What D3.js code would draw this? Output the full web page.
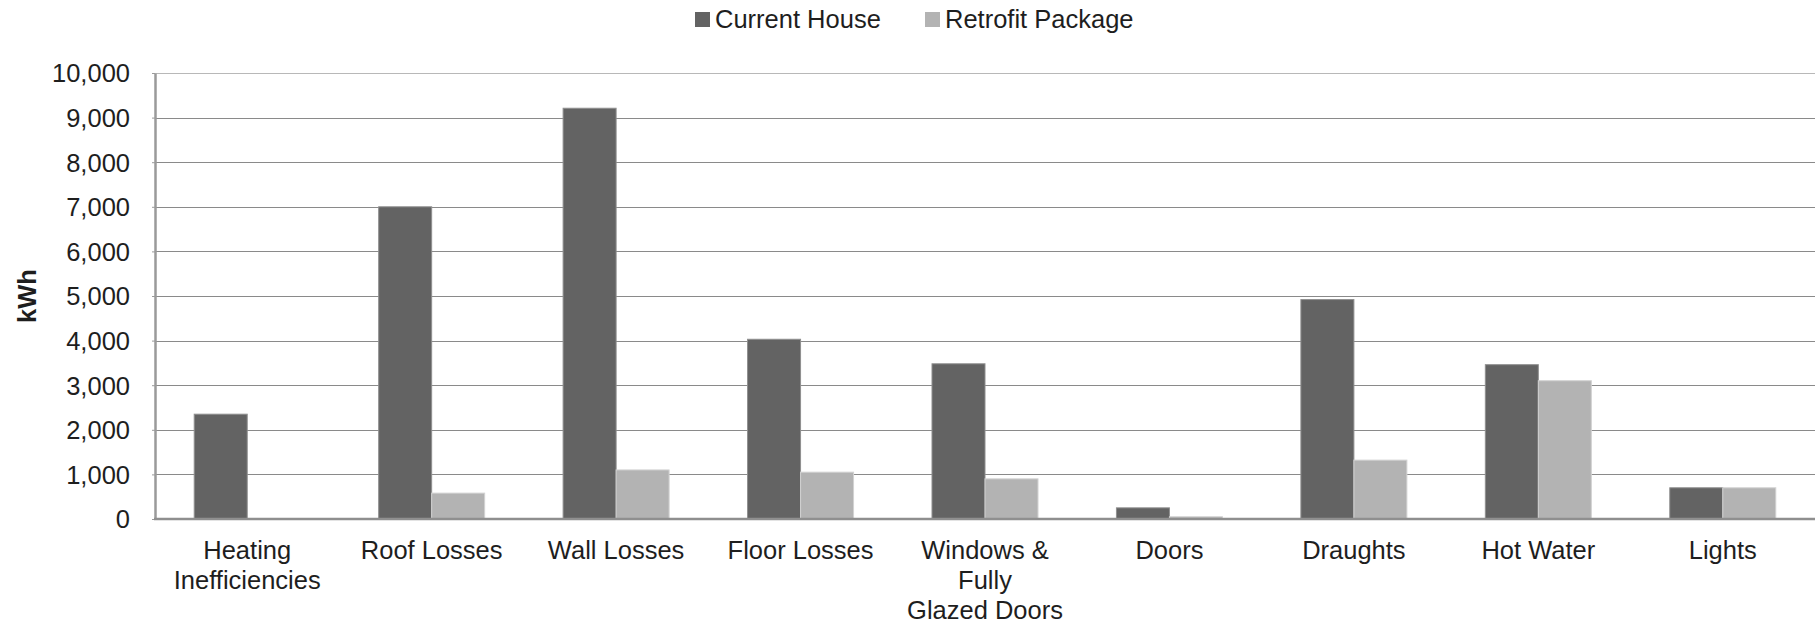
<!DOCTYPE html>
<html lang="en">
<head>
    <meta charset="UTF-8">
    <script src="https://d3js.org/d3.v7.min.js"></script>
    <style>
        body{
            margin:0;
            background:#fff;
        }
        text{
            font-family:"Liberation Sans", Arial, sans-serif;
            fill:#1e1e1e;
        }
    </style>
    <title>Energy Losses</title>
</head>
<body>
    <svg width="1816" height="626"></svg>
    <script>

        // data
        const categories = [
            ["Heating","Inefficiencies"],
            ["Roof Losses"],
            ["Wall Losses"],
            ["Floor Losses"],
            ["Windows &","Fully","Glazed Doors"],
            ["Doors"],
            ["Draughts"],
            ["Hot Water"],
            ["Lights"]
        ];
        const seriesNames = ["Current House","Retrofit Package"];
        const currentHouse = [2350, 7000, 9210, 4030, 3480, 250, 4920, 3460, 700];
        const retrofitPackage = [0, 580, 1100, 1050, 900, 50, 1320, 3100, 700];
        const yTicks = [0,1000,2000,3000,4000,5000,6000,7000,8000,9000,10000];

        const colors = ["#636363","#b3b3b3"];

        const width = 1816;
        const height = 626;
        const margin = {top:73, right:1, bottom:107, left:155};

        const svg = d3.select("svg");

        const keys = categories.map(d => d.join(" "));
        const rows = keys.map((k,i) => ({key:k, lines:categories[i], values:[currentHouse[i], retrofitPackage[i]]}));

        const x0 = d3.scaleBand()
            .domain(keys)
            .range([margin.left, width - margin.right])
            .padding(0);

        const x1 = d3.scaleBand()
            .domain([0,1])
            .range([0, x0.bandwidth()])
            .paddingInner(0)
            .paddingOuter(0.74);

        const y = d3.scaleLinear()
            .domain([0,10000])
            .range([height - margin.bottom, margin.top]);

        // gridlines
        svg.append("g")
            .selectAll("line")
            .data(yTicks.slice(1))
            .enter().append("line")
            .attr("x1", margin.left)
            .attr("x2", width - margin.right)
            .attr("y1", d => Math.round(y(d)) + 0.5)
            .attr("y2", d => Math.round(y(d)) + 0.5)
            .attr("stroke", d => d === 10000 ? "#b8b8b8" : "#8a8a8a")
            .attr("stroke-width", 1);

        // bars
        const groups = svg.append("g")
            .selectAll("g")
            .data(rows)
            .enter().append("g")
            .attr("transform", d => `translate(${x0(d.key)},0)`);

        groups.selectAll("rect")
            .data(d => d.values.map((v,i) => ({i:i, v:v})))
            .enter().append("rect")
            .attr("x", d => x1(d.i))
            .attr("y", d => y(d.v))
            .attr("width", x1.bandwidth())
            .attr("height", d => y(0) - y(d.v))
            .attr("fill", d => colors[d.i])
            .attr("stroke", d => d.i === 0 ? "#8f8f8f" : "#d2d2d2")
            .attr("stroke-width", d => d.v > 0 ? 1 : 0);

        // y axis
        const yAxis = svg.append("g")
            .attr("transform", `translate(${margin.left},0)`)
            .call(d3.axisLeft(y).tickValues(yTicks).tickFormat(d3.format(",")).tickSizeInner(3).tickSizeOuter(0).tickPadding(22));
        yAxis.select(".domain").attr("stroke","#9a9a9a").attr("stroke-width",2.5);
        yAxis.selectAll(".tick line").attr("stroke","#9a9a9a");
        yAxis.selectAll("text")
            .style("font-size","25.5px")
            .attr("fill","#1e1e1e")
            .attr("dy","0.35em");

        // baseline
        svg.append("line")
            .attr("x1", margin.left - 1)
            .attr("x2", width - margin.right)
            .attr("y1", y(0))
            .attr("y2", y(0))
            .attr("stroke", "#8f8f8f")
            .attr("stroke-width", 2.5);

        // x labels
        const xl = svg.append("g")
            .selectAll("text")
            .data(rows)
            .enter().append("text")
            .attr("x", d => x0(d.key) + x0.bandwidth()/2)
            .attr("y", 559)
            .attr("text-anchor","middle")
            .style("font-size","25.5px");
        xl.selectAll("tspan")
            .data(d => d.lines.map(l => ({l:l, x:x0(d.key) + x0.bandwidth()/2})))
            .enter().append("tspan")
            .attr("x", d => d.x)
            .attr("dy", (d,i) => i === 0 ? 0 : 30)
            .text(d => d.l);

        // y title
        svg.append("text")
            .attr("transform", `translate(36,${(margin.top + y(0))/2}) rotate(-90)`)
            .attr("text-anchor","middle")
            .style("font-size","25.5px")
            .style("font-weight","bold")
            .text("kWh");

        // legend
        const legendX = [695, 925];
        const legend = svg.append("g")
            .selectAll("g")
            .data(seriesNames)
            .enter().append("g")
            .attr("transform", (d,i) => `translate(${legendX[i]},0)`);
        legend.append("rect")
            .attr("x",0)
            .attr("y",12)
            .attr("width",15)
            .attr("height",15)
            .attr("fill",(d,i) => colors[i]);
        legend.append("text")
            .attr("x",20)
            .attr("y",28)
            .style("font-size","25.5px")
            .text(d => d);

    </script>
</body>
</html>
